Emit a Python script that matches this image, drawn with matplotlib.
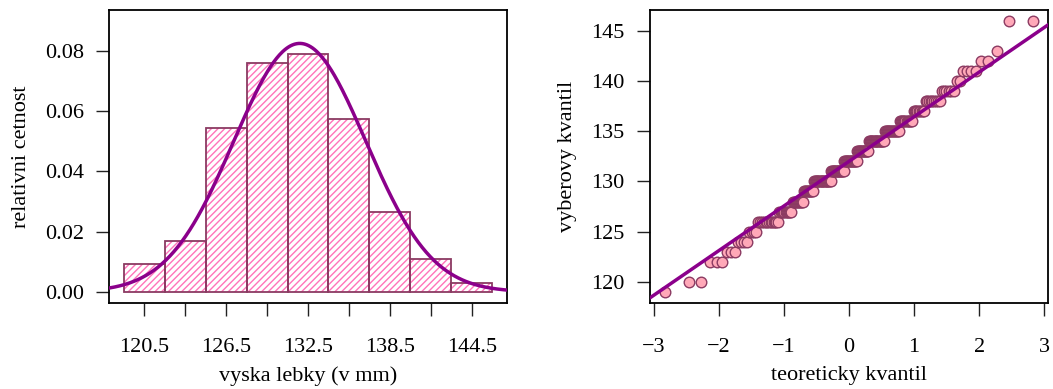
import matplotlib
matplotlib.use("Agg")
import matplotlib.pyplot as plt
import numpy as np
import pandas as pd
from statistics import NormalDist

# ---- data: skull heights (mm), value -> count ----
values = [119, 120, 122, 123, 124, 125, 126, 127, 128, 129, 130, 131, 132,
          133, 134, 135, 136, 137, 138, 139, 140, 141, 142, 143, 146]
counts = [1, 2, 3, 3, 4, 4, 13, 11, 11, 11, 21, 17, 17,
          15, 19, 16, 12, 9, 9, 6, 2, 4, 2, 1, 2]
bin_edges = [119, 122, 125, 128, 131, 134, 137, 140, 143, 146]
hist_tick_labels = ["120.5", "126.5", "132.5", "138.5", "144.5"]
qq_xticks = [-3, -2, -1, 0, 1, 2, 3]
qq_yticks = [120, 125, 130, 135, 140, 145]
hist_yticks = [0.00, 0.02, 0.04, 0.06, 0.08]

x = np.repeat(values, counts).astype(float)
n = len(x)

plt.rcParams['font.family'] = ['Liberation Serif', 'DejaVu Serif']
plt.rcParams['hatch.linewidth'] = 1.0
FS = 16

W, H = 1053, 389
fig = plt.figure(figsize=(W / 100, H / 100), dpi=100)

def ax_rect(l, r, t, b):
    return [l / W, 1 - b / H, (r - l) / W, (b - t) / H]

ax1 = fig.add_axes(ax_rect(109, 507, 10, 302.7))
ax2 = fig.add_axes(ax_rect(650, 1048, 10, 302.7))

# ---- histogram ----
cats = pd.cut(pd.Series(x), bins=bin_edges, right=True, include_lowest=True)
bin_counts = cats.value_counts(sort=False).values
edges = np.array(bin_edges, dtype=float)
widths = np.diff(edges)
dens = bin_counts / (n * widths)
mids = edges[:-1] + widths / 2

ax1.bar(edges[:-1], dens, width=widths, align='edge', fill=False,
        hatch='/////', edgecolor='#FF74BA', linewidth=0, zorder=2)
ax1.bar(edges[:-1], dens, width=widths, align='edge', fill=False,
        edgecolor='#8B3A62', linewidth=1.3, zorder=3)

rng = edges[-1] - edges[0]
xlo, xhi = edges[0] - 0.04 * rng, edges[-1] + 0.04 * rng
mu, sd = x.mean(), x.std(ddof=1)
xs = np.linspace(xlo, xhi, 400)
ys = np.exp(-0.5 * ((xs - mu) / sd) ** 2) / (sd * np.sqrt(2 * np.pi))
ax1.plot(xs, ys, color='#8B008B', lw=2.5, zorder=4)
ax1.set_xlim(xlo, xhi)
ax1.set_ylim(-0.09 * 0.04, 0.09 * 1.04)

ax1.set_xticks(mids)
lab = []
for i in range(len(mids)):
    lab.append(hist_tick_labels[i // 2] if i % 2 == 0 else "")
ax1.set_xticklabels(lab)
ax1.set_yticks(hist_yticks)
ax1.set_yticklabels([f"{v:.2f}" for v in hist_yticks])
ax1.set_xlabel("vyska lebky (v mm)", fontsize=FS, labelpad=7)
ax1.set_ylabel("relativni cetnost", fontsize=FS, labelpad=10)

# ---- QQ plot ----
xsorted = np.sort(x)
p = (np.arange(1, n + 1) - 0.5) / n
nd = NormalDist()
q = np.array([nd.inv_cdf(pi) for pi in p])
ax2.scatter(q, xsorted, s=58, facecolor='#FFA8B8',
            edgecolor='#8B3A62', linewidths=1.0, zorder=3)
q1, q3 = np.quantile(x, [0.25, 0.75])
z1, z3 = nd.inv_cdf(0.25), nd.inv_cdf(0.75)
slope = (q3 - q1) / (z3 - z1)
icpt = q1 - slope * z1
ax2.axline((0, icpt), slope=slope, color='#8B008B', lw=2.5, zorder=4)
qr = q.max() - q.min()
ax2.set_xlim(q.min() - 0.04 * qr, q.max() + 0.04 * qr)
yr = xsorted.max() - xsorted.min()
ax2.set_ylim(xsorted.min() - 0.04 * yr, xsorted.max() + 0.04 * yr)
ax2.set_xticks(qq_xticks)
ax2.set_xticklabels([("\u2212" + str(-t)) if t < 0 else str(t) for t in qq_xticks])
ax2.set_yticks(qq_yticks)
ax2.set_xlabel("teoreticky kvantil", fontsize=FS, labelpad=7)
ax2.set_ylabel("vyberovy kvantil", fontsize=FS, labelpad=10)

for ax in (ax1, ax2):
    for s in ax.spines.values():
        s.set_linewidth(1.3)
        s.set_color('black')
    ax.tick_params(axis='both', direction='out', length=9.2, width=1.0,
                   labelsize=FS, color='#222222')
    ax.tick_params(axis='x', pad=16)
    ax.tick_params(axis='y', pad=9)

fig.savefig("out.png", dpi=100)
